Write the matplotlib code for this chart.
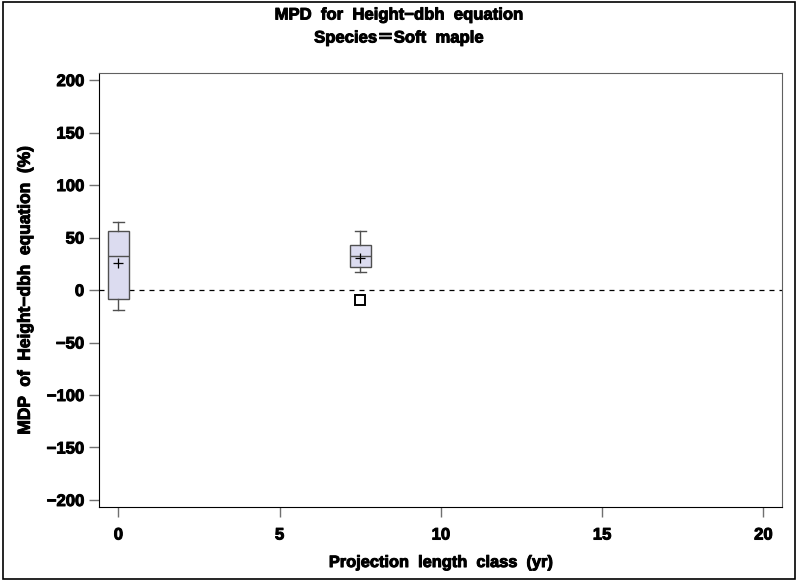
import matplotlib
matplotlib.use('Agg')
import matplotlib.pyplot as plt
import matplotlib.patheffects as pe
from matplotlib.patches import Rectangle

# 투영 길이 구간별 MPD 요약 통계
classes = [0, 7.5]
whislo = [-19, 16.9]
q1 = [-8.6, 22.2]
med = [32.4, 32.4]
q3 = [56.2, 42.9]
whishi = [64.5, 56.2]
means = [25.4, 30.8]
outliers = [[], [-9.5]]

xticks = [0, 5, 10, 15, 20]
yticks = [-200, -150, -100, -50, 0, 50, 100, 150, 200]

plt.rcParams['font.family'] = ['Liberation Sans', 'DejaVu Sans']
plt.rcParams['font.weight'] = 'bold'
heavy = [pe.withStroke(linewidth=0.7, foreground='black')]

fig = plt.figure(figsize=(7.97, 5.80), dpi=100)
ax = fig.add_axes([99.3 / 797, 1 - 506.7 / 580, (781.7 - 99.3) / 797, (506.7 - 72.7) / 580])

stats = []
for i in range(len(classes)):
    stats.append({'whislo': whislo[i], 'q1': q1[i], 'med': med[i], 'q3': q3[i],
                  'whishi': whishi[i], 'mean': means[i], 'fliers': outliers[i]})

edge = '#505050'
ax.bxp(stats, positions=classes, widths=0.66, patch_artist=True, showmeans=True,
       manage_ticks=False, zorder=3,
       boxprops=dict(facecolor='#dcdcf0', edgecolor=edge, linewidth=1.0),
       medianprops=dict(color=edge, linewidth=1.0),
       whiskerprops=dict(color=edge, linewidth=1.0),
       capprops=dict(color=edge, linewidth=1.0),
       meanprops=dict(marker='+', markeredgecolor='black', markersize=7, markeredgewidth=0.9),
       flierprops=dict(marker='s', markerfacecolor='white', markeredgecolor='black',
                       markersize=7, markeredgewidth=1.4))

ax.axhline(0, color='black', linestyle=(0, (4, 4)), linewidth=0.9, zorder=1)

ax.set_xlim(-0.59, 20.57)
ax.set_ylim(-206.4, 207)
ax.set_xticks(xticks)
ax.set_yticks(yticks)
ax.set_xticklabels([str(t) for t in xticks], fontsize=12, fontweight='bold')
ax.set_yticklabels([('\u2212' + str(-t)) if t < 0 else str(t) for t in yticks],
                   fontsize=12, fontweight='bold')
for lab in ax.get_xticklabels() + ax.get_yticklabels():
    lab.set_path_effects(heavy)
ax.tick_params(direction='out', length=7, width=1, color='#707070', pad=4)
ax.tick_params(axis='x', pad=8)
for s in ['left', 'bottom']:
    ax.spines[s].set_color('black')
for s in ['right', 'top']:
    ax.spines[s].set_color('#606060')

ax.set_xlabel('Projection  length  class  (yr)', fontsize=11.8, fontweight='bold', labelpad=9,
              path_effects=heavy)
ax.set_ylabel('MDP  of  Height\u2212dbh  equation  (%)', fontsize=12.5, fontweight='bold',
              labelpad=10, path_effects=heavy)

fig.text(0.5, 1 - 15 / 580, 'MPD  for  Height\u2212dbh  equation', ha='center', va='center',
         fontsize=12, fontweight='bold', path_effects=heavy)
fig.text(0.5, 1 - 38 / 580, 'Species\uff1dSoft  maple', ha='center', va='center',
         fontsize=12, fontweight='bold', path_effects=heavy,
         family=['Liberation Sans', 'Noto Sans CJK SC', 'DejaVu Sans'])

fig.patches.append(Rectangle((3 / 797, 1 / 580), 792 / 797, 577 / 580, transform=fig.transFigure,
                             fill=False, edgecolor='black', linewidth=1.2))

fig.savefig('out.png', dpi=100)
